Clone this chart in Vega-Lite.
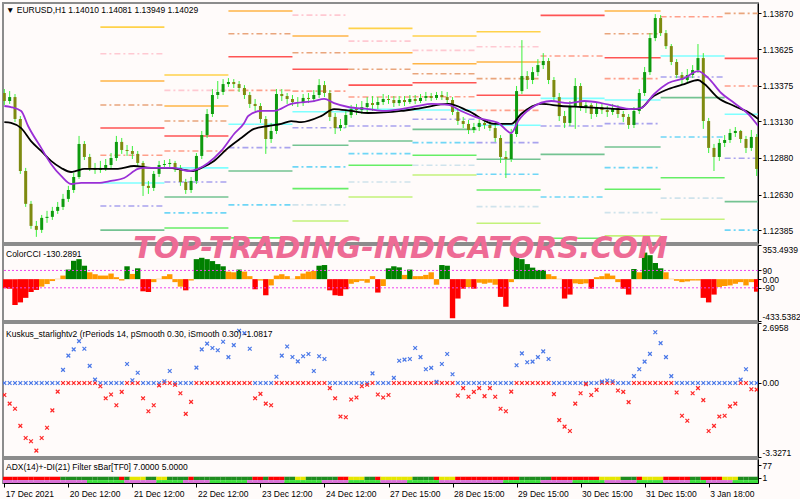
{
"$schema": "https://vega.github.io/schema/vega-lite/v6.json",
"background": "#FFFBFA",
"padding": {"left": 1, "top": 2, "right": 0, "bottom": 0},
"spacing": 2,
"bounds": "flush",
"config": {
  "view": {"stroke": "#8C8C8C", "strokeWidth": 2, "fill": "#FFFBFA"},
  "font": "Liberation Sans",
  "axis": {"domainColor": "#000000", "tickColor": "#000000", "labelColor": "#000000", "labelFont": "Liberation Sans", "labelFontSize": 8.5, "grid": false, "tickSize": 3, "domainWidth": 1, "labelPadding": 1, "labelOverlap": false, "tickCount": 30},
  "text": {"font": "Liberation Sans", "fontSize": 8.5, "color": "#000000", "align": "left", "baseline": "alphabetic"},
  "scale": {"continuousPadding": 0}
},
"datasets": {
"bars": [
{"i":0,"o":1.13325,"h":1.13352,"l":1.13243,"c":1.13270,"cc":-95,"ku":-0.54,"a":"r","z":"p"},
{"i":2,"o":1.13270,"h":1.13338,"l":1.13250,"c":1.13297,"cc":-99,"ku":-0.93,"a":"r","z":"p"},
{"i":4,"o":1.13297,"h":1.13318,"l":1.13126,"c":1.13147,"cc":-269,"ku":-1.16,"a":"r","z":"p"},
{"i":6,"o":1.13147,"h":1.13167,"l":1.12771,"c":1.12791,"cc":-241,"ku":-1.93,"a":"r","z":"p"},
{"i":8,"o":1.12791,"h":1.12812,"l":1.12545,"c":1.12566,"cc":-194,"ku":-2.47,"a":"r","z":"p"},
{"i":10,"o":1.12566,"h":1.12586,"l":1.12395,"c":1.12415,"cc":-133,"ku":-2.62,"a":"r","z":"p"},
{"i":12,"o":1.12415,"h":1.12449,"l":1.12340,"c":1.12388,"cc":-112,"ku":-3.04,"a":"r","z":"p"},
{"i":14,"o":1.12388,"h":1.12490,"l":1.12367,"c":1.12470,"cc":-78,"ku":-2.47,"a":"r","z":"p"},
{"i":16,"o":1.12470,"h":1.12518,"l":1.12436,"c":1.12477,"cc":-51,"ku":-2.01,"a":"r","z":"p"},
{"i":18,"o":1.12477,"h":1.12545,"l":1.12456,"c":1.12518,"cc":-20,"ku":-1.23,"a":"r","z":"p"},
{"i":20,"o":1.12518,"h":1.12579,"l":1.12497,"c":1.12545,"cc":3,"ku":-0.39,"a":"r","z":"p"},
{"i":22,"o":1.12545,"h":1.12634,"l":1.12524,"c":1.12600,"cc":37,"ku":0.59,"a":"g","z":"p"},
{"i":24,"o":1.12600,"h":1.12689,"l":1.12579,"c":1.12661,"cc":99,"ku":1.23,"a":"g","z":"p"},
{"i":26,"o":1.12661,"h":1.12778,"l":1.12641,"c":1.12750,"cc":190,"ku":1.51,"a":"g","z":"p"},
{"i":28,"o":1.12750,"h":1.13031,"l":1.12737,"c":1.12976,"cc":207,"ku":1.88,"a":"g","z":"p"},
{"i":30,"o":1.12976,"h":1.12996,"l":1.12866,"c":1.12887,"cc":139,"ku":1.54,"a":"g","z":"p"},
{"i":32,"o":1.12887,"h":1.12908,"l":1.12791,"c":1.12812,"cc":71,"ku":0.77,"a":"g","z":"l"},
{"i":34,"o":1.12812,"h":1.12846,"l":1.12771,"c":1.12798,"cc":51,"ku":0.15,"a":"g","z":"l"},
{"i":36,"o":1.12798,"h":1.12860,"l":1.12778,"c":1.12812,"cc":37,"ku":-0.15,"a":"g","z":"l"},
{"i":38,"o":1.12812,"h":1.12873,"l":1.12791,"c":1.12832,"cc":37,"ku":-0.69,"a":"g","z":"l"},
{"i":40,"o":1.12832,"h":1.12914,"l":1.12812,"c":1.12880,"cc":58,"ku":-0.52,"a":"g","z":"l"},
{"i":42,"o":1.12880,"h":1.13031,"l":1.12860,"c":1.12990,"cc":20,"ku":-1.0,"a":"g","z":"l"},
{"i":44,"o":1.12990,"h":1.13017,"l":1.12908,"c":1.12935,"cc":-14,"ku":-0.40,"a":"r","z":"l"},
{"i":46,"o":1.12935,"h":1.12969,"l":1.12894,"c":1.12928,"cc":133,"ku":0.85,"a":"g","z":"p"},
{"i":48,"o":1.12928,"h":1.12962,"l":1.12873,"c":1.12908,"cc":54,"ku":0.12,"a":"y","z":"p"},
{"i":50,"o":1.12908,"h":1.12928,"l":1.12825,"c":1.12846,"cc":112,"ku":0.46,"a":"y","z":"p"},
{"i":52,"o":1.12846,"h":1.12860,"l":1.12620,"c":1.12689,"cc":-126,"ku":-0.69,"a":"y","z":"p"},
{"i":54,"o":1.12689,"h":1.12723,"l":1.12634,"c":1.12675,"cc":-133,"ku":-1.27,"a":"g","z":"p"},
{"i":56,"o":1.12675,"h":1.12791,"l":1.12654,"c":1.12771,"cc":-31,"ku":-1.0,"a":"g","z":"p"},
{"i":58,"o":1.12771,"h":1.12860,"l":1.12750,"c":1.12832,"cc":3,"ku":-0.11,"a":"y","z":"l"},
{"i":60,"o":1.12832,"h":1.12866,"l":1.12805,"c":1.12839,"cc":31,"ku":0.08,"a":"y","z":"l"},
{"i":62,"o":1.12839,"h":1.12873,"l":1.12812,"c":1.12846,"cc":51,"ku":0.54,"a":"g","z":"l"},
{"i":64,"o":1.12846,"h":1.12860,"l":1.12784,"c":1.12812,"cc":-31,"ku":-0.08,"a":"g","z":"l"},
{"i":66,"o":1.12812,"h":1.12832,"l":1.12689,"c":1.12716,"cc":-78,"ku":-0.46,"a":"g","z":"l"},
{"i":68,"o":1.12716,"h":1.12737,"l":1.12634,"c":1.12661,"cc":-116,"ku":-1.39,"a":"g","z":"p"},
{"i":70,"o":1.12661,"h":1.12750,"l":1.12641,"c":1.12723,"cc":-14,"ku":-0.85,"a":"r","z":"p"},
{"i":72,"o":1.12723,"h":1.12914,"l":1.12702,"c":1.12894,"cc":207,"ku":0.69,"a":"g","z":"p"},
{"i":74,"o":1.12894,"h":1.13065,"l":1.12873,"c":1.13037,"cc":221,"ku":1.51,"a":"g","z":"p"},
{"i":76,"o":1.13037,"h":1.13215,"l":1.13017,"c":1.13181,"cc":207,"ku":1.77,"a":"g","z":"p"},
{"i":78,"o":1.13181,"h":1.13352,"l":1.13161,"c":1.13311,"cc":187,"ku":1.57,"a":"g","z":"l"},
{"i":80,"o":1.13311,"h":1.13407,"l":1.13284,"c":1.13332,"cc":156,"ku":1.47,"a":"g","z":"l"},
{"i":82,"o":1.13332,"h":1.13420,"l":1.13311,"c":1.13386,"cc":133,"ku":1.85,"a":"g","z":"l"},
{"i":84,"o":1.13386,"h":1.13427,"l":1.13366,"c":1.13400,"cc":78,"ku":1.16,"a":"g","z":"l"},
{"i":86,"o":1.13400,"h":1.13420,"l":1.13359,"c":1.13386,"cc":71,"ku":1.70,"a":"g","z":"l"},
{"i":88,"o":1.13386,"h":1.13407,"l":1.13332,"c":1.13359,"cc":99,"ku":2.35,"a":"g","z":"l"},
{"i":90,"o":1.13359,"h":1.13379,"l":1.13284,"c":1.13311,"cc":78,"ku":2.24,"a":"g","z":"l"},
{"i":92,"o":1.13311,"h":1.13332,"l":1.13222,"c":1.13250,"cc":31,"ku":1.54,"a":"g","z":"p"},
{"i":94,"o":1.13250,"h":1.13284,"l":1.13202,"c":1.13236,"cc":-105,"ku":-0.69,"a":"r","z":"p"},
{"i":96,"o":1.13236,"h":1.13256,"l":1.13120,"c":1.13147,"cc":-14,"ku":-0.49,"a":"r","z":"p"},
{"i":98,"o":1.13147,"h":1.13167,"l":1.12908,"c":1.13010,"cc":-167,"ku":-0.93,"a":"g","z":"p"},
{"i":100,"o":1.13010,"h":1.13120,"l":1.12983,"c":1.13065,"cc":-65,"ku":-1.0,"a":"r","z":"p"},
{"i":102,"o":1.13065,"h":1.13352,"l":1.13044,"c":1.13318,"cc":37,"ku":0.28,"a":"r","z":"p"},
{"i":104,"o":1.13318,"h":1.13352,"l":1.13270,"c":1.13304,"cc":51,"ku":1.23,"a":"r","z":"p"},
{"i":106,"o":1.13304,"h":1.13325,"l":1.13250,"c":1.13284,"cc":31,"ku":1.64,"a":"g","z":"l"},
{"i":108,"o":1.13284,"h":1.13311,"l":1.13236,"c":1.13263,"cc":3,"ku":1.17,"a":"g","z":"l"},
{"i":110,"o":1.13263,"h":1.13297,"l":1.13229,"c":1.13256,"cc":31,"ku":0.97,"a":"y","z":"l"},
{"i":112,"o":1.13256,"h":1.13318,"l":1.13236,"c":1.13291,"cc":58,"ku":1.20,"a":"y","z":"l"},
{"i":114,"o":1.13291,"h":1.13325,"l":1.13256,"c":1.13284,"cc":78,"ku":1.30,"a":"g","z":"l"},
{"i":116,"o":1.13284,"h":1.13345,"l":1.13263,"c":1.13311,"cc":85,"ku":0.54,"a":"g","z":"l"},
{"i":118,"o":1.13311,"h":1.13420,"l":1.13291,"c":1.13379,"cc":139,"ku":1.20,"a":"g","z":"l"},
{"i":120,"o":1.13379,"h":1.13407,"l":1.13297,"c":1.13325,"cc":146,"ku":1.08,"a":"g","z":"p"},
{"i":122,"o":1.13325,"h":1.13345,"l":1.13133,"c":1.13161,"cc":-116,"ku":-0.23,"a":"g","z":"p"},
{"i":124,"o":1.13161,"h":1.13188,"l":1.13044,"c":1.13085,"cc":-167,"ku":-0.69,"a":"g","z":"p"},
{"i":126,"o":1.13085,"h":1.13147,"l":1.13065,"c":1.13106,"cc":-173,"ku":-1.51,"a":"r","z":"p"},
{"i":128,"o":1.13106,"h":1.13202,"l":1.13085,"c":1.13174,"cc":-105,"ku":-1.54,"a":"r","z":"p"},
{"i":130,"o":1.13174,"h":1.13243,"l":1.13154,"c":1.13215,"cc":-48,"ku":-0.74,"a":"y","z":"l"},
{"i":132,"o":1.13215,"h":1.13250,"l":1.13174,"c":1.13208,"cc":-31,"ku":-0.65,"a":"y","z":"l"},
{"i":134,"o":1.13208,"h":1.13270,"l":1.13181,"c":1.13229,"cc":-17,"ku":-0.15,"a":"y","z":"l"},
{"i":136,"o":1.13229,"h":1.13297,"l":1.13188,"c":1.13256,"cc":-37,"ku":-0.08,"a":"g","z":"l"},
{"i":138,"o":1.13256,"h":1.13304,"l":1.13202,"c":1.13243,"cc":31,"ku":0.43,"a":"g","z":"l"},
{"i":140,"o":1.13243,"h":1.13297,"l":1.13215,"c":1.13263,"cc":-139,"ku":-0.52,"a":"r","z":"l"},
{"i":142,"o":1.13263,"h":1.13318,"l":1.13243,"c":1.13284,"cc":-71,"ku":-0.65,"a":"y","z":"p"},
{"i":144,"o":1.13284,"h":1.13311,"l":1.13250,"c":1.13277,"cc":112,"ku":-0.54,"a":"y","z":"p"},
{"i":146,"o":1.13277,"h":1.13304,"l":1.13229,"c":1.13256,"cc":133,"ku":0.23,"a":"y","z":"p"},
{"i":148,"o":1.13256,"h":1.13304,"l":1.13236,"c":1.13277,"cc":122,"ku":1.0,"a":"y","z":"p"},
{"i":150,"o":1.13277,"h":1.13304,"l":1.13236,"c":1.13263,"cc":44,"ku":1.05,"a":"y","z":"p"},
{"i":152,"o":1.13263,"h":1.13311,"l":1.13250,"c":1.13284,"cc":99,"ku":1.08,"a":"y","z":"l"},
{"i":154,"o":1.13284,"h":1.13311,"l":1.13250,"c":1.13270,"cc":31,"ku":1.57,"a":"g","z":"l"},
{"i":156,"o":1.13270,"h":1.13318,"l":1.13256,"c":1.13291,"cc":31,"ku":1.16,"a":"g","z":"l"},
{"i":158,"o":1.13291,"h":1.13332,"l":1.13270,"c":1.13304,"cc":44,"ku":0.62,"a":"g","z":"l"},
{"i":160,"o":1.13304,"h":1.13325,"l":1.13270,"c":1.13291,"cc":71,"ku":0.68,"a":"g","z":"l"},
{"i":162,"o":1.13291,"h":1.13332,"l":1.13277,"c":1.13311,"cc":-58,"ku":0.05,"a":"r","z":"l"},
{"i":164,"o":1.13311,"h":1.13338,"l":1.13277,"c":1.13297,"cc":146,"ku":0.85,"a":"y","z":"p"},
{"i":166,"o":1.13297,"h":1.13332,"l":1.13250,"c":1.13277,"cc":139,"ku":1.30,"a":"y","z":"p"},
{"i":168,"o":1.13277,"h":1.13297,"l":1.13174,"c":1.13195,"cc":-405,"ku":0.39,"a":"y","z":"p"},
{"i":170,"o":1.13195,"h":1.13215,"l":1.13106,"c":1.13133,"cc":-201,"ku":-0.56,"a":"r","z":"p"},
{"i":172,"o":1.13133,"h":1.13161,"l":1.13085,"c":1.13113,"cc":-99,"ku":-0.23,"a":"r","z":"p"},
{"i":174,"o":1.13113,"h":1.13140,"l":1.13044,"c":1.13072,"cc":-82,"ku":-0.62,"a":"r","z":"p"},
{"i":176,"o":1.13072,"h":1.13120,"l":1.13051,"c":1.13092,"cc":-99,"ku":-0.40,"a":"r","z":"p"},
{"i":178,"o":1.13092,"h":1.13147,"l":1.13065,"c":1.13120,"cc":-37,"ku":-0.23,"a":"r","z":"p"},
{"i":180,"o":1.13120,"h":1.13147,"l":1.13079,"c":1.13106,"cc":-48,"ku":-0.59,"a":"r","z":"p"},
{"i":182,"o":1.13106,"h":1.13133,"l":1.13065,"c":1.13085,"cc":-37,"ku":-0.23,"a":"r","z":"p"},
{"i":184,"o":1.13085,"h":1.13113,"l":1.12990,"c":1.13017,"cc":-58,"ku":-0.62,"a":"r","z":"p"},
{"i":186,"o":1.13017,"h":1.13037,"l":1.12846,"c":1.12887,"cc":-184,"ku":-1.16,"a":"r","z":"p"},
{"i":188,"o":1.12887,"h":1.12928,"l":1.12743,"c":1.12873,"cc":-286,"ku":-1.27,"a":"r","z":"l"},
{"i":190,"o":1.12873,"h":1.13079,"l":1.12853,"c":1.13044,"cc":-31,"ku":-0.39,"a":"r","z":"l"},
{"i":192,"o":1.13044,"h":1.13373,"l":1.13024,"c":1.13338,"cc":241,"ku":0.80,"a":"r","z":"l"},
{"i":194,"o":1.13338,"h":1.13687,"l":1.13318,"c":1.13441,"cc":207,"ku":1.33,"a":"g","z":"l"},
{"i":196,"o":1.13441,"h":1.13475,"l":1.13352,"c":1.13414,"cc":156,"ku":0.93,"a":"g","z":"l"},
{"i":198,"o":1.13414,"h":1.13503,"l":1.13386,"c":1.13468,"cc":119,"ku":0.96,"a":"g","z":"l"},
{"i":200,"o":1.13468,"h":1.13557,"l":1.13441,"c":1.13516,"cc":95,"ku":1.16,"a":"g","z":"l"},
{"i":202,"o":1.13516,"h":1.13598,"l":1.13489,"c":1.13544,"cc":95,"ku":1.42,"a":"g","z":"p"},
{"i":204,"o":1.13544,"h":1.13564,"l":1.13386,"c":1.13414,"cc":51,"ku":1.08,"a":"g","z":"p"},
{"i":206,"o":1.13414,"h":1.13434,"l":1.13270,"c":1.13297,"cc":31,"ku":-0.50,"a":"r","z":"p"},
{"i":208,"o":1.13297,"h":1.13325,"l":1.13133,"c":1.13167,"cc":3,"ku":-1.67,"a":"r","z":"p"},
{"i":210,"o":1.13167,"h":1.13202,"l":1.13085,"c":1.13120,"cc":-201,"ku":-1.96,"a":"r","z":"p"},
{"i":212,"o":1.13120,"h":1.13270,"l":1.13099,"c":1.13236,"cc":-160,"ku":-2.16,"a":"r","z":"p"},
{"i":214,"o":1.13236,"h":1.13427,"l":1.13079,"c":1.13373,"cc":-44,"ku":-0.93,"a":"r","z":"l"},
{"i":216,"o":1.13373,"h":1.13393,"l":1.13202,"c":1.13229,"cc":-51,"ku":-0.46,"a":"r","z":"l"},
{"i":218,"o":1.13229,"h":1.13270,"l":1.13188,"c":1.13243,"cc":-44,"ku":-0.05,"a":"r","z":"l"},
{"i":220,"o":1.13243,"h":1.13256,"l":1.13147,"c":1.13181,"cc":-99,"ku":-0.54,"a":"r","z":"l"},
{"i":222,"o":1.13181,"h":1.13263,"l":1.13161,"c":1.13229,"cc":20,"ku":-0.31,"a":"r","z":"l"},
{"i":224,"o":1.13229,"h":1.13256,"l":1.13181,"c":1.13208,"cc":31,"ku":0.06,"a":"y","z":"l"},
{"i":226,"o":1.13208,"h":1.13236,"l":1.13161,"c":1.13195,"cc":58,"ku":0.11,"a":"y","z":"p"},
{"i":228,"o":1.13195,"h":1.13250,"l":1.13174,"c":1.13222,"cc":37,"ku":0.08,"a":"y","z":"p"},
{"i":230,"o":1.13222,"h":1.13243,"l":1.13154,"c":1.13181,"cc":-31,"ku":-0.34,"a":"y","z":"p"},
{"i":232,"o":1.13181,"h":1.13202,"l":1.13126,"c":1.13161,"cc":-99,"ku":-0.40,"a":"g","z":"p"},
{"i":234,"o":1.13161,"h":1.13181,"l":1.13079,"c":1.13106,"cc":-160,"ku":-0.86,"a":"g","z":"p"},
{"i":236,"o":1.13106,"h":1.13229,"l":1.13085,"c":1.13202,"cc":105,"ku":0.31,"a":"g","z":"p"},
{"i":238,"o":1.13202,"h":1.13352,"l":1.13181,"c":1.13325,"cc":71,"ku":0.62,"a":"r","z":"l"},
{"i":240,"o":1.13325,"h":1.13503,"l":1.13304,"c":1.13468,"cc":275,"ku":0.96,"a":"y","z":"l"},
{"i":242,"o":1.13468,"h":1.13735,"l":1.13448,"c":1.13701,"cc":248,"ku":1.31,"a":"y","z":"l"},
{"i":244,"o":1.13701,"h":1.13865,"l":1.13680,"c":1.13838,"cc":167,"ku":2.28,"a":"y","z":"l"},
{"i":246,"o":1.13838,"h":1.13858,"l":1.13715,"c":1.13735,"cc":112,"ku":1.79,"a":"y","z":"l"},
{"i":248,"o":1.13735,"h":1.13756,"l":1.13626,"c":1.13646,"cc":71,"ku":1.16,"a":"r","z":"p"},
{"i":250,"o":1.13646,"h":1.13660,"l":1.13516,"c":1.13537,"cc":3,"ku":0.31,"a":"r","z":"p"},
{"i":252,"o":1.13537,"h":1.13557,"l":1.13427,"c":1.13448,"cc":-17,"ku":-0.43,"a":"r","z":"p"},
{"i":254,"o":1.13448,"h":1.13468,"l":1.13386,"c":1.13414,"cc":-31,"ku":-1.47,"a":"r","z":"p"},
{"i":256,"o":1.13414,"h":1.13489,"l":1.13393,"c":1.13448,"cc":-24,"ku":-1.70,"a":"r","z":"p"},
{"i":258,"o":1.13448,"h":1.13516,"l":1.13427,"c":1.13482,"cc":-14,"ku":-0.46,"a":"g","z":"l"},
{"i":260,"o":1.13482,"h":1.13660,"l":1.13462,"c":1.13564,"cc":-14,"ku":-0.23,"a":"g","z":"l"},
{"i":262,"o":1.13564,"h":1.13598,"l":1.13079,"c":1.13133,"cc":-194,"ku":-0.77,"a":"r","z":"l"},
{"i":264,"o":1.13133,"h":1.13154,"l":1.12914,"c":1.12949,"cc":-241,"ku":-2.16,"a":"r","z":"p"},
{"i":266,"o":1.12949,"h":1.12976,"l":1.12791,"c":1.12887,"cc":-160,"ku":-1.93,"a":"r","z":"p"},
{"i":268,"o":1.12887,"h":1.13010,"l":1.12860,"c":1.12983,"cc":-82,"ku":-1.51,"a":"r","z":"p"},
{"i":270,"o":1.12983,"h":1.13037,"l":1.12955,"c":1.13003,"cc":-71,"ku":-1.47,"a":"y","z":"p"},
{"i":272,"o":1.13003,"h":1.13079,"l":1.12983,"c":1.13051,"cc":-65,"ku":-1.05,"a":"y","z":"p"},
{"i":274,"o":1.13051,"h":1.13092,"l":1.13024,"c":1.13065,"cc":-48,"ku":-0.93,"a":"y","z":"l"},
{"i":276,"o":1.13065,"h":1.13072,"l":1.12983,"c":1.13010,"cc":-31,"ku":0.15,"a":"g","z":"l"},
{"i":278,"o":1.13010,"h":1.13031,"l":1.12914,"c":1.12949,"cc":-65,"ku":0.62,"a":"g","z":"l"},
{"i":280,"o":1.12949,"h":1.13072,"l":1.12928,"c":1.13024,"cc":-31,"ku":-0.28,"a":"g","z":"l"},
{"i":282,"o":1.13024,"h":1.13044,"l":1.12757,"c":1.12805,"cc":-130,"ku":-0.30,"a":"g","z":"l"}
],
"ma": [
{"m":"slow","i":0,"v":1.13126},{"m":"slow","i":2.5,"v":1.13120},{"m":"slow","i":6.3,"v":1.13085},{"m":"slow","i":10,"v":1.12996},{"m":"slow","i":13.8,"v":1.12928},{"m":"slow","i":17.5,"v":1.12860},{"m":"slow","i":21.3,"v":1.12812},{"m":"slow","i":25,"v":1.12784},{"m":"slow","i":26.9,"v":1.12791},{"m":"slow","i":29.9,"v":1.12805},{"m":"slow","i":36.3,"v":1.12805},{"m":"slow","i":42.6,"v":1.12805},{"m":"slow","i":48.6,"v":1.12825},{"m":"slow","i":55,"v":1.12812},{"m":"slow","i":61.4,"v":1.12812},{"m":"slow","i":67.4,"v":1.12798},{"m":"slow","i":70.8,"v":1.12791},{"m":"slow","i":73.8,"v":1.12812},{"m":"slow","i":78.6,"v":1.12860},{"m":"slow","i":83.9,"v":1.12949},{"m":"slow","i":88.8,"v":1.13017},{"m":"slow","i":93.6,"v":1.13079},{"m":"slow","i":98.9,"v":1.13099},{"m":"slow","i":103.8,"v":1.13113},{"m":"slow","i":107.5,"v":1.13133},{"m":"slow","i":111.3,"v":1.13126},{"m":"slow","i":118.7,"v":1.13167},{"m":"slow","i":123.6,"v":1.13215},{"m":"slow","i":130,"v":1.13202},{"m":"slow","i":136.4,"v":1.13188},{"m":"slow","i":148.7,"v":1.13202},{"m":"slow","i":156.2,"v":1.13222},{"m":"slow","i":166.4,"v":1.13250},{"m":"slow","i":173.9,"v":1.13202},{"m":"slow","i":183.6,"v":1.13113},{"m":"slow","i":190,"v":1.13113},{"m":"slow","i":193.7,"v":1.13181},{"m":"slow","i":201.2,"v":1.13250},{"m":"slow","i":208.7,"v":1.13236},{"m":"slow","i":216.2,"v":1.13229},{"m":"slow","i":223.7,"v":1.13222},{"m":"slow","i":230.1,"v":1.13215},{"m":"slow","i":236.1,"v":1.13215},{"m":"slow","i":238.7,"v":1.13222},{"m":"slow","i":242.5,"v":1.13291},{"m":"slow","i":248.9,"v":1.13352},{"m":"slow","i":254.9,"v":1.13386},{"m":"slow","i":260,"v":1.13414},{"m":"slow","i":262.4,"v":1.13386},{"m":"slow","i":267.6,"v":1.13291},{"m":"slow","i":273.6,"v":1.13236},{"m":"slow","i":280,"v":1.13181},{"m":"slow","i":282.6,"v":1.13147},
{"m":"fast","i":0,"v":1.13236},{"m":"fast","i":2.5,"v":1.13229},{"m":"fast","i":6.3,"v":1.13202},{"m":"fast","i":8.9,"v":1.13099},{"m":"fast","i":13.8,"v":1.12949},{"m":"fast","i":17.5,"v":1.12839},{"m":"fast","i":21.3,"v":1.12757},{"m":"fast","i":25,"v":1.12702},{"m":"fast","i":28.8,"v":1.12709},{"m":"fast","i":35.1,"v":1.12709},{"m":"fast","i":40,"v":1.12723},{"m":"fast","i":44.9,"v":1.12743},{"m":"fast","i":50.1,"v":1.12805},{"m":"fast","i":52.4,"v":1.12812},{"m":"fast","i":58.8,"v":1.12812},{"m":"fast","i":63.6,"v":1.12812},{"m":"fast","i":68.9,"v":1.12791},{"m":"fast","i":72.6,"v":1.12805},{"m":"fast","i":76.4,"v":1.12846},{"m":"fast","i":81.3,"v":1.12928},{"m":"fast","i":86.1,"v":1.13044},{"m":"fast","i":89.9,"v":1.13120},{"m":"fast","i":91.4,"v":1.13167},{"m":"fast","i":96.3,"v":1.13202},{"m":"fast","i":101.1,"v":1.13202},{"m":"fast","i":107.5,"v":1.13250},{"m":"fast","i":116.1,"v":1.13270},{"m":"fast","i":119.9,"v":1.13284},{"m":"fast","i":123.6,"v":1.13256},{"m":"fast","i":128.9,"v":1.13229},{"m":"fast","i":136.4,"v":1.13215},{"m":"fast","i":142.4,"v":1.13202},{"m":"fast","i":148.7,"v":1.13215},{"m":"fast","i":155.1,"v":1.13236},{"m":"fast","i":160,"v":1.13250},{"m":"fast","i":166.4,"v":1.13243},{"m":"fast","i":171.2,"v":1.13202},{"m":"fast","i":177.6,"v":1.13154},{"m":"fast","i":185.1,"v":1.13120},{"m":"fast","i":190,"v":1.13051},{"m":"fast","i":192.6,"v":1.13133},{"m":"fast","i":197.5,"v":1.13222},{"m":"fast","i":205,"v":1.13270},{"m":"fast","i":211.4,"v":1.13256},{"m":"fast","i":217.4,"v":1.13270},{"m":"fast","i":223.7,"v":1.13256},{"m":"fast","i":228.6,"v":1.13236},{"m":"fast","i":235,"v":1.13215},{"m":"fast","i":238.7,"v":1.13222},{"m":"fast","i":243.6,"v":1.13318},{"m":"fast","i":248.9,"v":1.13393},{"m":"fast","i":254.9,"v":1.13427},{"m":"fast","i":260,"v":1.13475},{"m":"fast","i":263.9,"v":1.13427},{"m":"fast","i":268.7,"v":1.13325},{"m":"fast","i":273.6,"v":1.13256},{"m":"fast","i":278.9,"v":1.13181},{"m":"fast","i":282.6,"v":1.13099}
],
"piv": [
{"s":36,"e":60,"p":1.13776,"k":"y1"},{"s":36,"e":60,"p":1.13594,"k":"pk"},{"s":36,"e":60,"p":1.13407,"k":"or"},{"s":36,"e":60,"p":1.13243,"k":"sd"},{"s":36,"e":60,"p":1.13085,"k":"rd"},{"s":36,"e":60,"p":1.12899,"k":"sa"},{"s":36,"e":60,"p":1.12709,"k":"cy"},{"s":36,"e":60,"p":1.12551,"k":"lv"},{"s":36,"e":60,"p":1.12386,"k":"sg"},
{"s":60,"e":84,"p":1.13448,"k":"y1"},{"s":60,"e":84,"p":1.13343,"k":"pk"},{"s":60,"e":84,"p":1.13236,"k":"or"},{"s":60,"e":84,"p":1.13133,"k":"sd"},{"s":60,"e":84,"p":1.13031,"k":"rd"},{"s":60,"e":84,"p":1.12928,"k":"sa"},{"s":60,"e":84,"p":1.12812,"k":"cy"},{"s":60,"e":84,"p":1.12716,"k":"lv"},{"s":60,"e":84,"p":1.12613,"k":"sg"},{"s":60,"e":84,"p":1.12504,"k":"lb"},{"s":60,"e":84,"p":1.12401,"k":"lm"},
{"s":84,"e":108,"p":1.13886,"k":"or"},{"s":84,"e":108,"p":1.13730,"k":"sd"},{"s":84,"e":108,"p":1.13573,"k":"rd"},{"s":84,"e":108,"p":1.13343,"k":"sa"},{"s":84,"e":108,"p":1.13111,"k":"cy"},{"s":84,"e":108,"p":1.12951,"k":"lv"},{"s":84,"e":108,"p":1.12791,"k":"sg"},{"s":84,"e":108,"p":1.12559,"k":"lb"},{"s":84,"e":108,"p":1.12333,"k":"lm"},
{"s":108,"e":129,"p":1.13858,"k":"pk"},{"s":108,"e":129,"p":1.13715,"k":"or"},{"s":108,"e":129,"p":1.13600,"k":"sd"},{"s":108,"e":129,"p":1.13487,"k":"rd"},{"s":108,"e":129,"p":1.13338,"k":"sa"},{"s":108,"e":129,"p":1.13197,"k":"cy"},{"s":108,"e":129,"p":1.13087,"k":"lv"},{"s":108,"e":129,"p":1.12967,"k":"sg"},{"s":108,"e":129,"p":1.12819,"k":"lb"},{"s":108,"e":129,"p":1.12670,"k":"lm"},{"s":108,"e":129,"p":1.12559,"k":"pl"},{"s":108,"e":129,"p":1.12449,"k":"yg"},
{"s":129,"e":153,"p":1.13767,"k":"y1"},{"s":129,"e":153,"p":1.13680,"k":"pk"},{"s":129,"e":153,"p":1.13600,"k":"or"},{"s":129,"e":153,"p":1.13487,"k":"sd"},{"s":129,"e":153,"p":1.13379,"k":"rd"},{"s":129,"e":153,"p":1.13297,"k":"sa"},{"s":129,"e":153,"p":1.13213,"k":"cy"},{"s":129,"e":153,"p":1.13099,"k":"lv"},{"s":129,"e":153,"p":1.12996,"k":"sg"},{"s":129,"e":153,"p":1.12910,"k":"lb"},{"s":129,"e":153,"p":1.12830,"k":"lm"},{"s":129,"e":153,"p":1.12716,"k":"pl"},{"s":129,"e":153,"p":1.12613,"k":"yg"},
{"s":153,"e":177,"p":1.13715,"k":"y1"},{"s":153,"e":177,"p":1.13617,"k":"pk"},{"s":153,"e":177,"p":1.13525,"k":"or"},{"s":153,"e":177,"p":1.13457,"k":"sd"},{"s":153,"e":177,"p":1.13395,"k":"rd"},{"s":153,"e":177,"p":1.13299,"k":"sa"},{"s":153,"e":177,"p":1.13208,"k":"cy"},{"s":153,"e":177,"p":1.13145,"k":"lv"},{"s":153,"e":177,"p":1.13076,"k":"sg"},{"s":153,"e":177,"p":1.12985,"k":"lb"},{"s":153,"e":177,"p":1.12899,"k":"lm"},{"s":153,"e":177,"p":1.12830,"k":"pl"},{"s":153,"e":177,"p":1.12764,"k":"yg"},
{"s":177,"e":201,"p":1.13744,"k":"y1"},{"s":177,"e":201,"p":1.13641,"k":"pk"},{"s":177,"e":201,"p":1.13537,"k":"or"},{"s":177,"e":201,"p":1.13423,"k":"sd"},{"s":177,"e":201,"p":1.13309,"k":"rd"},{"s":177,"e":201,"p":1.13206,"k":"sa"},{"s":177,"e":201,"p":1.13104,"k":"cy"},{"s":177,"e":201,"p":1.12985,"k":"lv"},{"s":177,"e":201,"p":1.12871,"k":"sg"},{"s":177,"e":201,"p":1.12769,"k":"lb"},{"s":177,"e":201,"p":1.12661,"k":"lm"},{"s":177,"e":201,"p":1.12547,"k":"pl"},{"s":177,"e":201,"p":1.12433,"k":"yg"},
{"s":201,"e":225,"p":1.13856,"k":"rd"},{"s":201,"e":225,"p":1.13578,"k":"sa"},{"s":201,"e":225,"p":1.13288,"k":"cy"},{"s":201,"e":225,"p":1.13099,"k":"lv"},{"s":201,"e":225,"p":1.12905,"k":"sg"},{"s":201,"e":225,"p":1.12613,"k":"lb"},{"s":201,"e":225,"p":1.12331,"k":"lm"},
{"s":225,"e":246,"p":1.13886,"k":"or"},{"s":225,"e":246,"p":1.13730,"k":"sd"},{"s":225,"e":246,"p":1.13566,"k":"rd"},{"s":225,"e":246,"p":1.13423,"k":"sa"},{"s":225,"e":246,"p":1.13277,"k":"cy"},{"s":225,"e":246,"p":1.13115,"k":"lv"},{"s":225,"e":246,"p":1.12955,"k":"sg"},{"s":225,"e":246,"p":1.12814,"k":"lb"},{"s":225,"e":246,"p":1.12666,"k":"lm"},{"s":225,"e":246,"p":1.12506,"k":"pl"},{"s":225,"e":246,"p":1.12347,"k":"yg"},
{"s":246,"e":270,"p":1.13847,"k":"sa"},{"s":246,"e":270,"p":1.13578,"k":"cy"},{"s":246,"e":270,"p":1.13434,"k":"lv"},{"s":246,"e":270,"p":1.13293,"k":"sg"},{"s":246,"e":270,"p":1.13024,"k":"lb"},{"s":246,"e":270,"p":1.12745,"k":"lm"},{"s":246,"e":270,"p":1.12605,"k":"pl"},{"s":246,"e":270,"p":1.12461,"k":"yg"},
{"s":270,"e":283,"p":1.13870,"k":"sd"},{"s":270,"e":283,"p":1.13562,"k":"rd"},{"s":270,"e":283,"p":1.13373,"k":"sa"},{"s":270,"e":283,"p":1.13179,"k":"cy"},{"s":270,"e":283,"p":1.12878,"k":"lv"},{"s":270,"e":283,"p":1.12581,"k":"sg"},{"s":270,"e":283,"p":1.12386,"k":"lb"}
]
},
"vconcat": [
{
  "width": 755, "height": 240,
  "resolve": {"scale": {"color": "independent"}},
  "layer": [
    {"data": {"name": "piv"}, "mark": {"type": "rule", "strokeWidth": 1.6, "clip": true},
     "encoding": {
       "x": {"field": "s", "type": "quantitative", "scale": {"domain": [-0.5, 282.5], "nice": false, "zero": false, "padding": 0}, "axis": null},
       "x2": {"field": "e"},
       "y": {"field": "p", "type": "quantitative", "scale": {"domain": [1.12298, 1.13941], "nice": false, "zero": false, "padding": 0},
             "axis": {"orient": "right", "values": [1.12385, 1.1263, 1.1288, 1.1313, 1.13375, 1.13625, 1.1387], "format": ".5f", "title": null, "labelOverlap": false, "tickCount": 30}},
       "color": {"field": "k", "type": "nominal", "legend": null,
         "scale": {"domain": ["y1","pk","or","sd","rd","sa","cy","lv","sg","lb","lm","pl","yg"],
                   "range": ["#FFD24A","#FFC9D2","#FFB547","#E9A57C","#FF5454","#FF9F8A","#7FFFFF","#A9A3EE","#74C392","#6FD6F6","#66EE66","#CFE3EC","#C3F27A"]}},
       "strokeDash": {"field": "k", "type": "nominal", "legend": null,
         "scale": {"domain": ["y1","pk","or","sd","rd","sa","cy","lv","sg","lb","lm","pl","yg"],
                   "range": [[1,0],[6,3,2,3],[1,0],[6,3,2,3],[1,0],[6,3,2,3],[1,0],[6,3,2,3],[1,0],[6,3,2,3],[1,0],[6,3,2,3],[1,0]]}}
     }},
    {"data": {"name": "bars"}, "mark": {"type": "rule", "color": "#3CF03C", "strokeWidth": 1, "clip": true},
     "encoding": {"x": {"field": "i", "type": "quantitative"}, "y": {"field": "l", "type": "quantitative"}, "y2": {"field": "h"}}},
    {"data": {"name": "bars"}, "mark": {"type": "bar", "width": 3, "clip": true},
     "encoding": {"x": {"field": "i", "type": "quantitative"}, "y": {"field": "o", "type": "quantitative"}, "y2": {"field": "c"},
       "color": {"condition": {"test": "datum.c >= datum.o", "value": "#0E9A0E"}, "value": "#7E8A10"}}},
    {"data": {"name": "ma"}, "mark": {"type": "line", "interpolate": "monotone", "strokeWidth": 1.8, "clip": true},
     "encoding": {"x": {"field": "i", "type": "quantitative"}, "y": {"field": "v", "type": "quantitative"},
       "color": {"field": "m", "type": "nominal", "legend": null, "scale": {"domain": ["fast","slow"], "range": ["#9A2FD6","#000000"]}}}},
    {"data": {"values": [{"t": "▼ EURUSD,H1  1.14010 1.14081 1.13949 1.14029"}]}, "mark": {"type": "text", "dx": 3, "dy": 10},
     "encoding": {"text": {"field": "t"}, "x": {"datum": -0.5}, "y": {"datum": 1.13941}}}
  ]
},
{
  "width": 755, "height": 76,
  "layer": [
    {"data": {"name": "bars"}, "mark": {"type": "bar", "width": 5.4, "clip": true},
     "encoding": {
       "x": {"field": "i", "type": "quantitative", "scale": {"domain": [-0.5, 282.5], "nice": false, "zero": false, "padding": 0}, "axis": null},
       "y": {"field": "cc", "type": "quantitative", "scale": {"domain": [-433.5382, 353.4939], "nice": false, "zero": false, "padding": 0},
             "axis": {"orient": "right", "values": [-433.5382, -90, 0, 90, 353.4939], "labelFlush": true, "title": null, "labelOverlap": false, "tickCount": 30,
                      "labelExpr": "replace(datum.value == 0 ? '0.00' : (abs(datum.value) == 90 ? format(datum.value, 'd') : format(datum.value, '.4f')), '\u2212', '-')"}},
       "y2": {"datum": 0},
       "color": {"condition": [{"test": "datum.cc > 90", "value": "#008000"}, {"test": "datum.cc < -90", "value": "#FF0000"}], "value": "#FF9900"}
     }},
    {"data": {"values": [{"lv": 90}, {"lv": -90}]}, "mark": {"type": "rule", "color": "#EE44EE", "strokeDash": [2, 2], "strokeWidth": 1},
     "encoding": {"y": {"field": "lv", "type": "quantitative"}}},
    {"data": {"values": [{"t": "ColorCCI -130.2891"}]}, "mark": {"type": "text", "dx": 3, "dy": 12},
     "encoding": {"text": {"field": "t"}, "x": {"datum": -0.5}, "y": {"datum": 353.4939}}}
  ]
},
{
  "width": 755, "height": 134,
  "layer": [
    {"data": {"name": "bars"}, "mark": {"type": "point", "shape": "M-1,-1L1,1M-1,1L1,-1", "filled": false, "size": 14, "strokeWidth": 1.2, "opacity": 1, "clip": true},
     "encoding": {"x": {"field": "i", "type": "quantitative", "scale": {"domain": [-0.5, 282.5], "nice": false, "zero": false, "padding": 0}, "axis": null},
       "y": {"datum": 0},
       "color": {"condition": {"test": "datum.ku < 0", "value": "#4A78E8"}, "value": "#FF2626"}}},
    {"data": {"name": "bars"}, "mark": {"type": "point", "shape": "M-1,-1L1,1M-1,1L1,-1", "filled": false, "size": 14, "strokeWidth": 1.2, "opacity": 1, "clip": true},
     "encoding": {"x": {"field": "i", "type": "quantitative"},
       "y": {"field": "ku", "type": "quantitative", "scale": {"domain": [-3.3271, 2.6958], "nice": false, "zero": false, "padding": 0},
             "axis": {"orient": "right", "values": [-3.3271, 0, 2.6958], "labelFlush": true, "title": null, "labelOverlap": false, "tickCount": 30,
                      "labelExpr": "replace(datum.value == 0 ? '0.00' : format(datum.value, '.4f'), '\u2212', '-')"}},
       "color": {"condition": {"test": "datum.ku < 0", "value": "#FF2626"}, "value": "#4A78E8"}}},
    {"data": {"values": [{"t": "Kuskus_starlightv2  (rPeriods 14, pSmooth 0.30, iSmooth 0.30)  -1.0817"}]}, "mark": {"type": "text", "dx": 3, "dy": 14},
     "encoding": {"text": {"field": "t"}, "x": {"datum": -0.5}, "y": {"datum": 2.6958}}},
    {"data": {"values": [{"t": "TOP-TRADING-INDICATORS.COM"}]},
     "mark": {"type": "text", "font": "DejaVu Sans", "fontSize": 30, "fontWeight": "bold", "fontStyle": "italic", "color": "#EE6B95", "align": "center", "baseline": "alphabetic"},
     "encoding": {"text": {"field": "t"}, "x": {"datum": 148.5}, "y": {"datum": 5.6174}}}
  ]
},
{
  "width": 755, "height": 24,
  "resolve": {"scale": {"color": "independent"}},
  "layer": [
    {"data": {"name": "bars"}, "mark": {"type": "bar", "width": 5.4, "clip": true},
     "encoding": {
       "x": {"field": "i", "type": "quantitative", "scale": {"domain": [-0.5, 282.5], "nice": false, "zero": false, "padding": 0},
             "axis": {"orient": "bottom", "values": [0,24,48,72,96,120,144,168,192,216,240,264], "title": null, "labelFlush": false, "labelOverlap": false, "tickCount": 30,
                      "labelAlign": "left", "labelBaseline": "top", "labelPadding": 2, "labelOffset": 1, "tickSize": 4,
                      "labelExpr": "['17 Dec 2021','20 Dec 12:00','21 Dec 12:00','22 Dec 12:00','23 Dec 12:00','24 Dec 12:00','27 Dec 15:00','28 Dec 15:00','29 Dec 15:00','30 Dec 15:00','31 Dec 15:00','3 Jan 18:00'][round(datum.value / 24)]"}},
       "y": {"datum": 6, "type": "quantitative", "scale": {"domain": [-33, 116], "nice": false, "zero": false, "padding": 0},
             "axis": {"orient": "right", "values": [77, 1], "title": null, "labelOverlap": false, "tickCount": 30}},
       "y2": {"datum": -15},
       "color": {"field": "a", "type": "nominal", "legend": null, "scale": {"domain": ["r","g","y"], "range": ["#FF0000","#1E8C1E","#E6E600"]}}
     }},
    {"data": {"name": "bars"}, "mark": {"type": "bar", "width": 5.4, "clip": true},
     "encoding": {
       "x": {"field": "i", "type": "quantitative"},
       "y": {"datum": -15},
       "y2": {"datum": -33},
       "color": {"field": "z", "type": "nominal", "legend": null, "scale": {"domain": ["p","l"], "range": ["#DA70D6","#3BE03B"]}}
     }},
    {"data": {"values": [{"t": "ADX(14)+-DI(21) Filter sBar[TF0] 7.0000 5.0000"}]}, "mark": {"type": "text", "dx": 3, "dy": 11},
     "encoding": {"text": {"field": "t"}, "x": {"datum": -0.5}, "y": {"datum": 116}}}
  ]
}
]
}
